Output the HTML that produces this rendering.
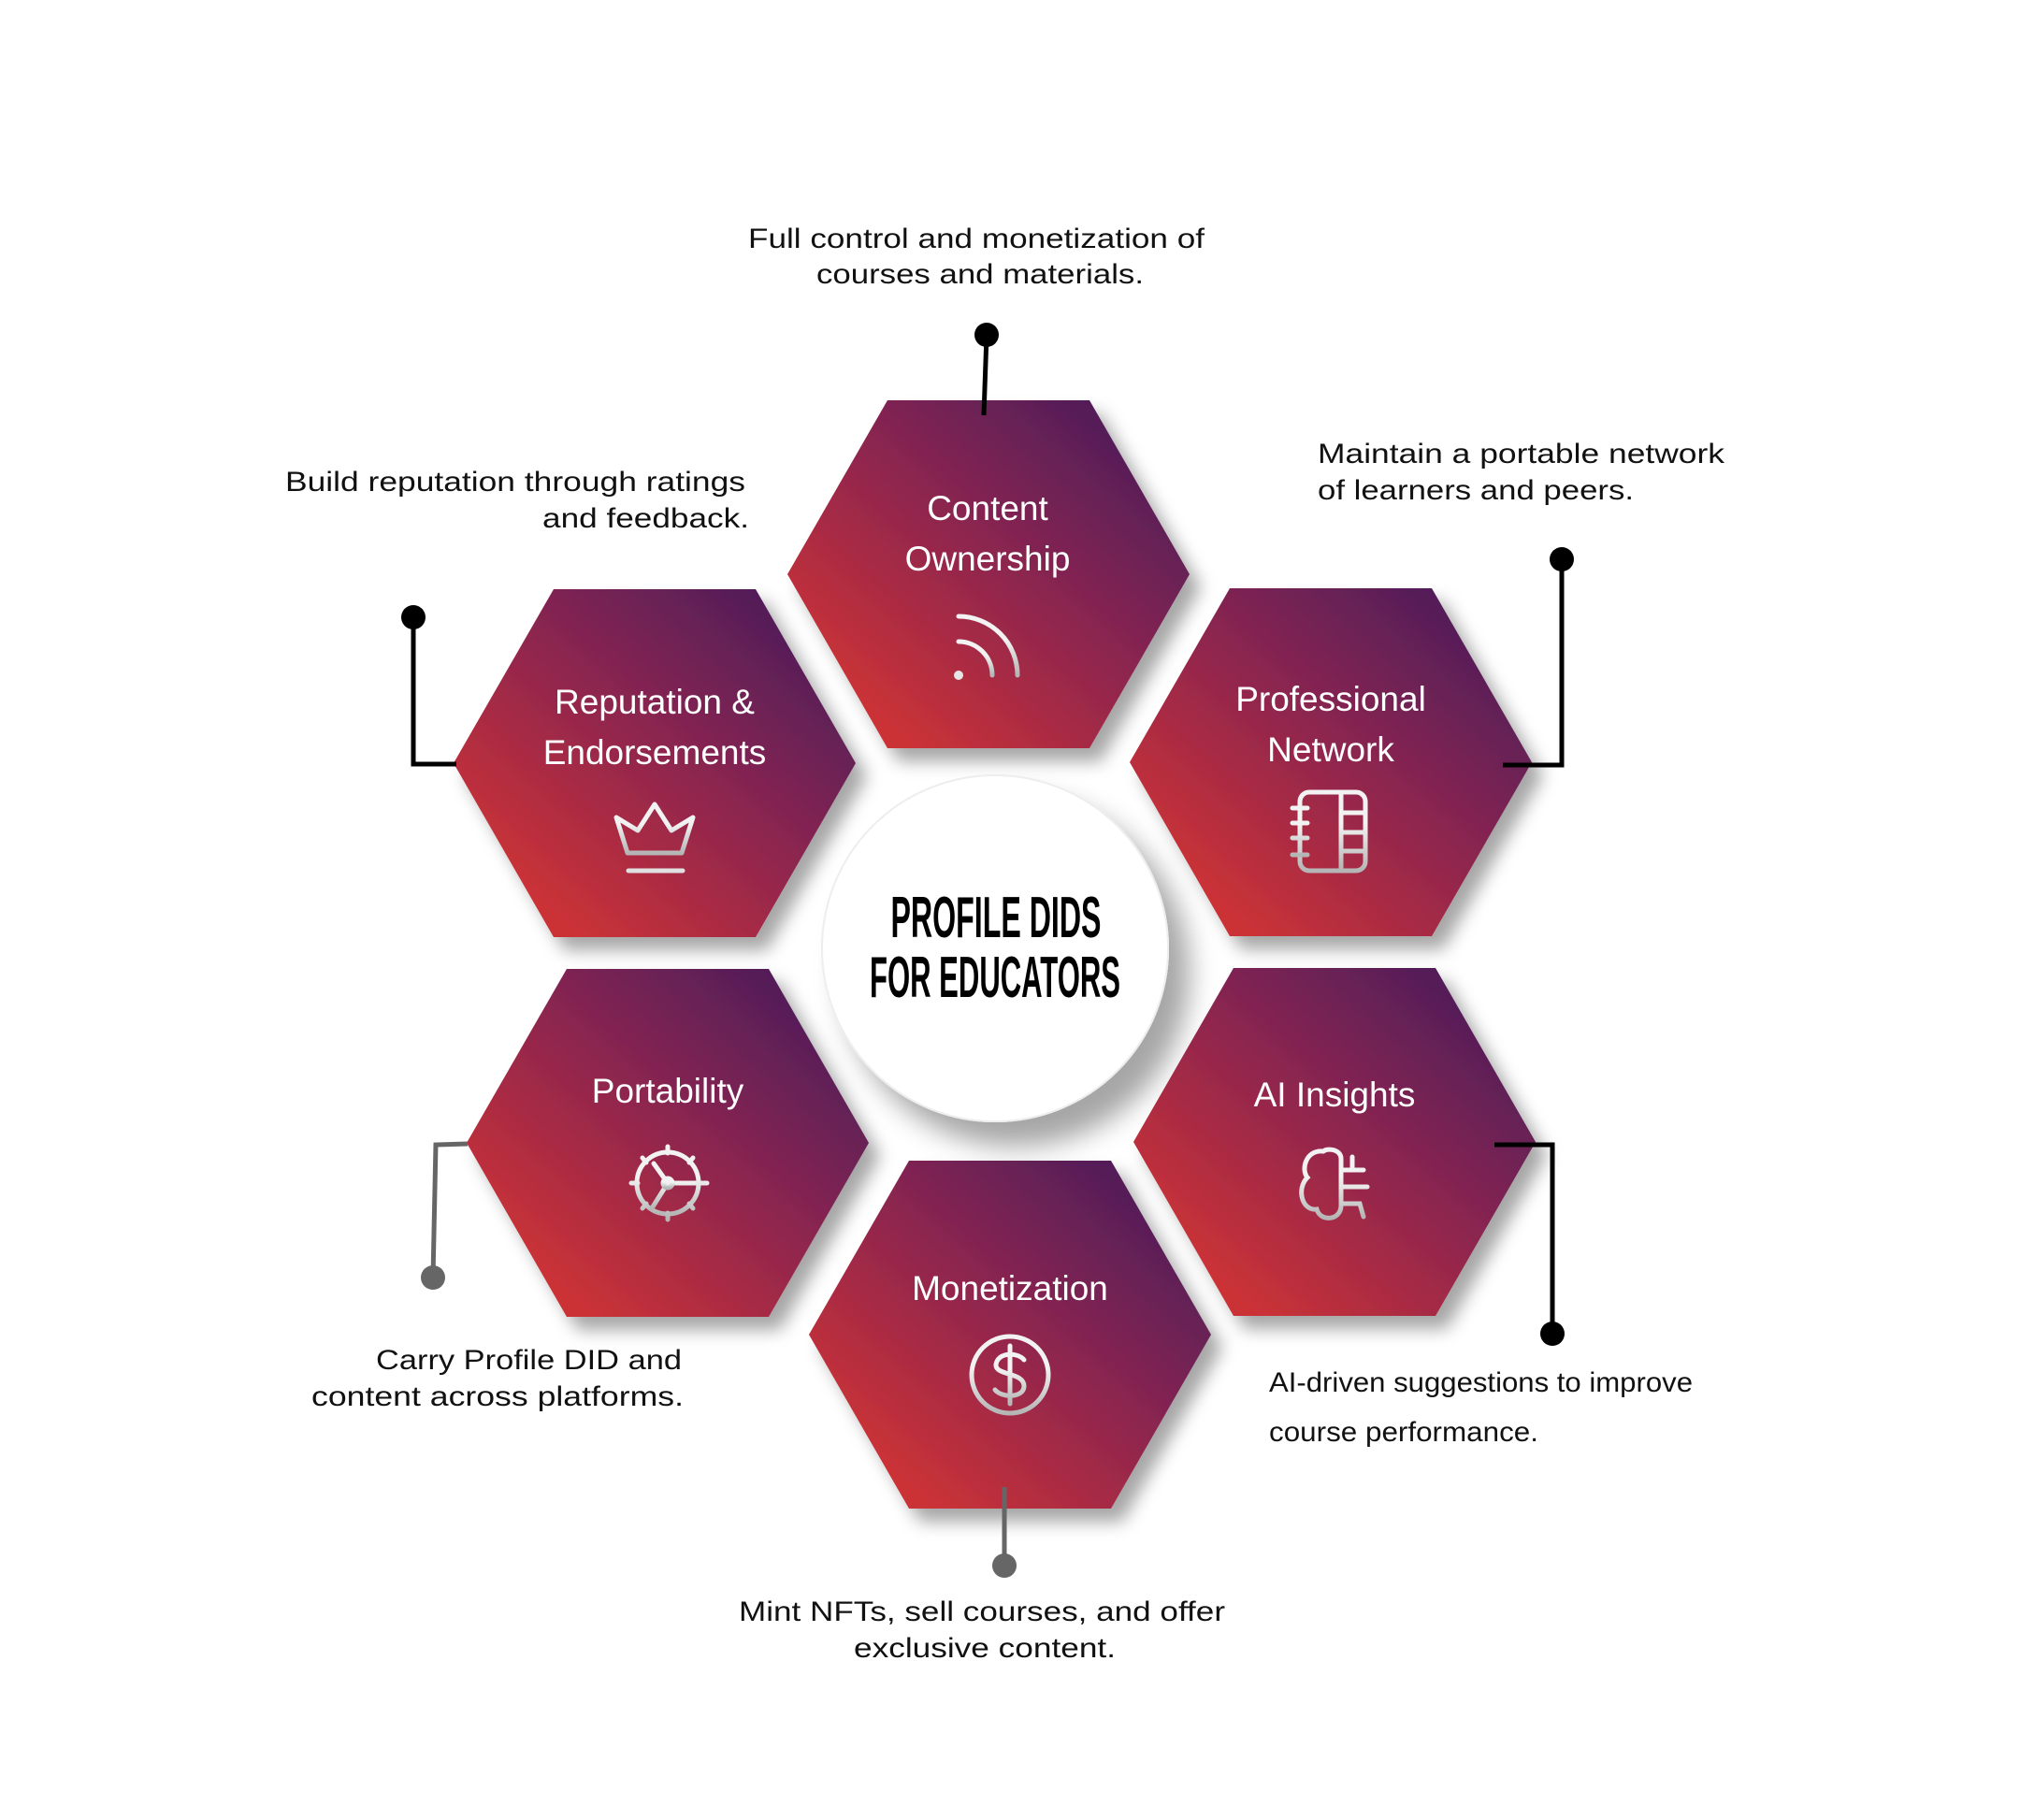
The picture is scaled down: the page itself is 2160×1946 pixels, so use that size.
<!DOCTYPE html>
<html><head><meta charset="utf-8"><style>html,body{margin:0;padding:0;background:#fff}svg{display:block}</style></head>
<body>
<svg width="2160" height="1946" viewBox="0 0 2160 1946" xmlns="http://www.w3.org/2000/svg" font-family="Liberation Sans, sans-serif">
<defs>
<linearGradient id="g" x1="0" y1="1" x2="1" y2="0">
<stop offset="0.15" stop-color="#cb3236"/><stop offset="0.55" stop-color="#8a2550"/><stop offset="0.9" stop-color="#4d1d5a"/>
</linearGradient>
<linearGradient id="ic" x1="0" y1="0" x2="0" y2="1"><stop offset="0.4" stop-color="#f2f2f2"/><stop offset="1" stop-color="#b5b5b5"/></linearGradient>
<filter id="sh" x="-20%" y="-20%" width="150%" height="150%"><feDropShadow dx="12" dy="14" stdDeviation="9" flood-color="#000" flood-opacity="0.35"/></filter>
<filter id="csh" x="-30%" y="-30%" width="170%" height="170%"><feDropShadow dx="22" dy="26" stdDeviation="14" flood-color="#000" flood-opacity="0.35"/></filter>
<path id="hx" d="M-215,0 L-108,-186 L108,-186 L215,0 L108,186 L-108,186 Z"/>
</defs>

<circle cx="1064" cy="1014" r="185" fill="#fff" stroke="#eee" stroke-width="2" filter="url(#csh)"/>

<g fill="url(#g)" filter="url(#sh)">
<use href="#hx" x="1057" y="614"/>
<use href="#hx" x="700" y="816"/>
<use href="#hx" x="1423" y="815"/>
<use href="#hx" x="714" y="1222"/>
<use href="#hx" x="1427" y="1221"/>
<use href="#hx" x="1080" y="1427"/>
</g>
<circle cx="1064" cy="1014" r="185" fill="#fff" stroke="#eee" stroke-width="2"/>
<g font-family="Liberation Sans Narrow, Liberation Sans, sans-serif" font-weight="bold" font-size="62" fill="#000" text-anchor="middle">
<text x="1065" y="1002" textLength="225" lengthAdjust="spacingAndGlyphs">PROFILE DIDS</text>
<text x="1064" y="1066" textLength="268" lengthAdjust="spacingAndGlyphs">FOR EDUCATORS</text>
</g>

<g fill="#fff" font-size="37" text-anchor="middle">
<text x="1056" y="556">Content</text><text x="1056" y="610">Ownership</text>
<text x="700" y="763">Reputation &amp;</text><text x="700" y="817">Endorsements</text>
<text x="1423" y="760">Professional</text><text x="1423" y="814">Network</text>
<text x="714" y="1179">Portability</text>
<text x="1427" y="1183">AI Insights</text>
<text x="1080" y="1390">Monetization</text>
</g>

<g fill="none" stroke="url(#ic)" stroke-width="5" stroke-linecap="round">
<!-- rss -->
<path d="M1025,659 A63,63 0 0 1 1088,722"/><path d="M1025,686 A36,36 0 0 1 1061,722"/>
<!-- crown -->
<path d="M659,874 L682,888 L700,860 L718,888 L741,874 L729,912 L671,912 Z" stroke-linejoin="round"/>
<!-- notebook -->
<rect x="1390" y="847" width="70" height="84" rx="10"/>
<path d="M1434,849 L1434,929 M1435,869 L1458,869 M1435,890 L1458,890 M1435,910 L1458,910"/>
<path d="M1382,864 L1398,864 M1382,880 L1398,880 M1382,896 L1398,896 M1382,914 L1398,914"/>
<!-- gear -->
<circle cx="714" cy="1265" r="33"/>
<path d="M714,1265 L699,1244 M714,1265 L756,1265 M714,1265 L697,1292"/>
<circle cx="714" cy="1265" r="5"/>
<path d="M714,1226 L714,1233 M741,1238 L737,1243 M753,1265 L746,1265 M741,1292 L737,1287 M714,1304 L714,1297 M687,1292 L691,1287 M675,1265 L682,1265 M687,1238 L691,1243"/>
<!-- brain -->
<path d="M1415,1231 C1396,1229 1391,1251 1398,1259 C1386,1271 1392,1295 1408,1293 C1412,1307 1434,1305 1434,1289 L1434,1239 C1434,1229 1420,1227 1415,1231 Z"/>
<path d="M1434,1251 L1458,1251 M1434,1269 L1462,1269 M1434,1287 L1454,1287 L1458,1301 M1446,1251 L1446,1237"/>
<!-- dollar -->
<circle cx="1080" cy="1470" r="41"/>
<path d="M1095,1454 C1089,1446 1067,1445 1065,1459 C1064,1471 1095,1467 1095,1482 C1095,1495 1071,1495 1064,1486 M1080,1439 L1080,1501"/>
</g>
<path d="M672,931 L730,931" stroke="#e0e0e0" stroke-width="5" stroke-linecap="round"/>
<circle cx="1025" cy="722" r="5" fill="#e6e6e6"/>

<!-- connectors -->
<g stroke="#000" stroke-width="5" fill="none">
<path d="M1055,358 L1052,444"/>
<path d="M442,660 L442,817 L488,817"/>
<path d="M1670,598 L1670,818 L1607,818"/>
<path d="M1598,1224 L1660,1224 L1660,1426"/>
</g>
<g stroke="#666" stroke-width="5" fill="none">
<path d="M500,1223 L466,1224 L463,1366"/>
<path d="M1074,1590 L1074,1674"/>
</g>
<g fill="#000">
<circle cx="1055" cy="358" r="13"/><circle cx="442" cy="660" r="13"/><circle cx="1670" cy="598" r="13"/><circle cx="1660" cy="1426" r="13"/>
</g>
<g fill="#666"><circle cx="463" cy="1366" r="13"/><circle cx="1074" cy="1674" r="13"/></g>

<g fill="#111" font-size="30">
<text x="800" y="265" textLength="488" lengthAdjust="spacingAndGlyphs">Full control and monetization of</text>
<text x="873" y="303" textLength="350" lengthAdjust="spacingAndGlyphs">courses and materials.</text>
<text x="305" y="525" textLength="492" lengthAdjust="spacingAndGlyphs">Build reputation through ratings</text>
<text x="580" y="564" textLength="221" lengthAdjust="spacingAndGlyphs">and feedback.</text>
<text x="1409" y="495" textLength="435" lengthAdjust="spacingAndGlyphs">Maintain a portable network</text>
<text x="1409" y="534" textLength="338" lengthAdjust="spacingAndGlyphs">of learners and peers.</text>
<text x="402" y="1464" textLength="327" lengthAdjust="spacingAndGlyphs">Carry Profile DID and</text>
<text x="333" y="1503" textLength="398" lengthAdjust="spacingAndGlyphs">content across platforms.</text>
<text x="790" y="1733" textLength="520" lengthAdjust="spacingAndGlyphs">Mint NFTs, sell courses, and offer</text>
<text x="913" y="1772" textLength="280" lengthAdjust="spacingAndGlyphs">exclusive content.</text>
<text x="1357" y="1488" textLength="453" lengthAdjust="spacingAndGlyphs">AI-driven suggestions to improve</text>
<text x="1357" y="1541" textLength="288" lengthAdjust="spacingAndGlyphs">course performance.</text>
</g>
</svg>
</body></html>
